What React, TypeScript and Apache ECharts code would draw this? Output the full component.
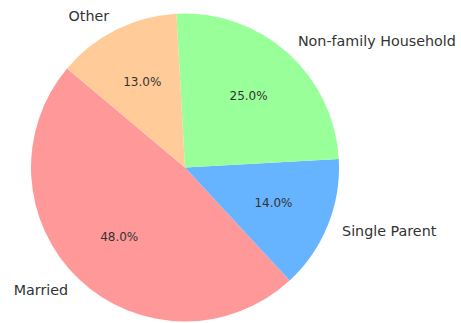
import React, { useEffect, useRef } from "react";
import * as echarts from "echarts";

const categories = ["Married", "Single Parent", "Non-family Household", "Other"];
const values = [48, 14, 25, 13];
const colors = ["#ff9999", "#66b3ff", "#99ff99", "#ffcc99"];

export default function App() {
  const ref = useRef<HTMLDivElement>(null);
  useEffect(() => {
    if (!ref.current) return;
    const chart = echarts.init(ref.current, null, { renderer: "svg" });
    const R = 154;
    const center = [185, 167.5];
    const data = categories.map((name, i) => ({ name, value: values[i], itemStyle: { color: colors[i] } }));
    const total = values.reduce((a, b) => a + b, 0);
    chart.setOption({
      animation: false,
      series: [
        {
          type: "pie",
          center,
          radius: [0, R],
          startAngle: 140,
          clockwise: false,
          avoidLabelOverlap: false,
          silent: true,
          data,
          label: {
            show: true,
            position: "outside",
            formatter: "{b}",
            fontFamily: "DejaVu Sans",
            fontSize: 14.3,
            color: "#333",
            distanceToLabelLine: 0,
          },
          labelLine: { show: false, length: R * 0.1, length2: 0 },
          emphasis: { disabled: true },
        },
        {
          type: "pie",
          center,
          radius: [0, R * 1.2],
          startAngle: 140,
          clockwise: false,
          avoidLabelOverlap: false,
          silent: true,
          data: categories.map((name, i) => ({ name, value: values[i], itemStyle: { color: "rgba(0,0,0,0)" } })),
          label: {
            show: true,
            position: "inside",
            formatter: (p: any) => ((p.value / total) * 100).toFixed(1) + "%",
            fontFamily: "DejaVu Sans",
            fontSize: 12,
            color: "#333",
          },
          labelLine: { show: false },
          emphasis: { disabled: true },
        },
      ],
    });
    return () => chart.dispose();
  }, []);
  return (
    <div
      ref={ref}
      style={{ position: "fixed", left: 0, top: 0, width: 461, height: 323, background: "#fff" }}
    />
  );
}
